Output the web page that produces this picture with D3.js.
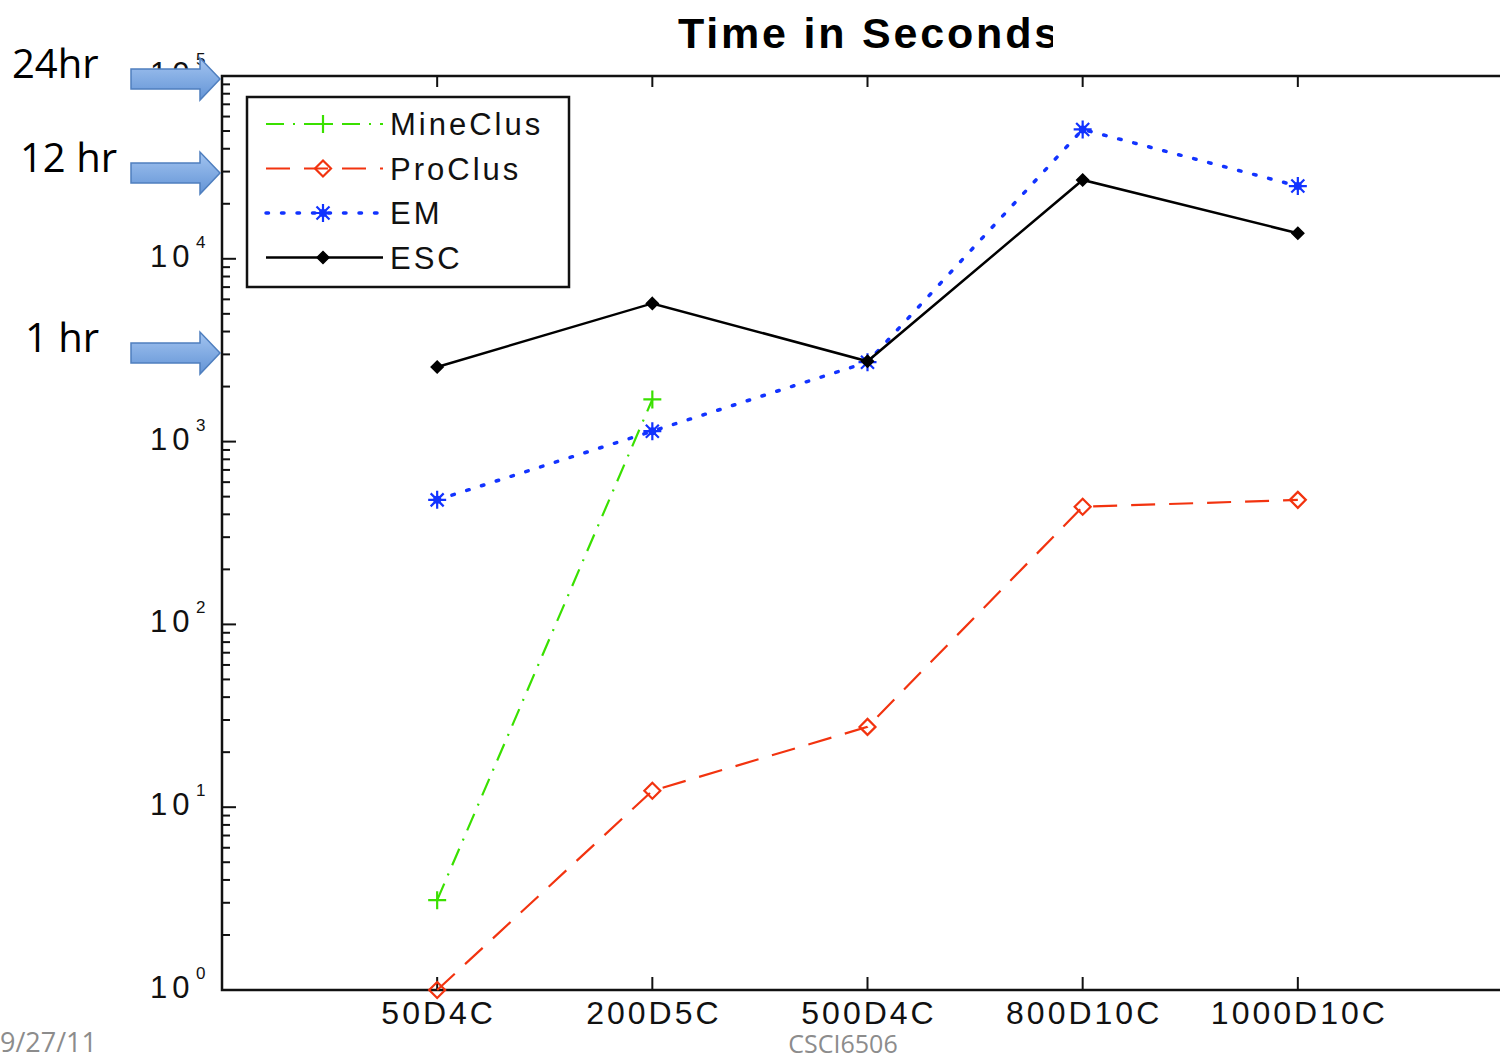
<!DOCTYPE html>
<html>
<head>
<meta charset="utf-8">
<script src="https://d3js.org/d3.v7.min.js"></script>
<style>
    body { margin: 0; background: #fff; }
    svg { display: block; }
    .tick-label { font-family: "Liberation Sans", Arial, sans-serif; fill: #111; }
</style>
</head>
<body>
<div id="chart"></div>
<script>

// ---- data ----
const categories = ["50D4C", "200D5C", "500D4C", "800D10C", "1000D10C"];
const mineClus = [3.1, 1700, null, null, null];
const proClus  = [1.0, 12.3, 27.5, 440, 480];
const em       = [480, 1140, 2720, 51000, 25000];
const esc      = [2560, 5700, 2750, 27000, 13800];
const seriesNames = ["MineClus", "ProClus", "EM", "ESC"];
const yTickExps = [0, 1, 2, 3, 4, 5];

// slide annotations: label text, arrow tip (px), text left
const notes = [
    {label: "24hr",  y: 79,  tx: 12},
    {label: "12 hr", y: 173, tx: 20},
    {label: "1 hr",  y: 353, tx: 25}
];

const W = 1500, H = 1060;
const margin = {top: 76, left: 222, bottom: 990, right: 1513};

const svg = d3.select("#chart").append("svg")
    .attr("width", W)
    .attr("height", H);

const x = d3.scaleLinear().domain([0, categories.length + 1]).range([margin.left, margin.right]);
const y = d3.scaleLog().domain([1, 1e5]).range([margin.bottom, margin.top]);

// styles per series
const styles = {
    MineClus: {color: "#3ae000", dash: "18,9,2,9", marker: "plus", width: 2.2},
    ProClus:  {color: "#f2330f", dash: "24,14", marker: "diamond", width: 2.2},
    EM:       {color: "#1233ff", dash: "2.5,13", marker: "star", width: 3.5},
    ESC:      {color: "#000000", dash: null, marker: "dot", width: 2.5}
};
const data = {MineClus: mineClus, ProClus: proClus, EM: em, ESC: esc};

function markerPath(type) {
    if (type === "plus") return "M-9,0H9M0,-9V9";
    if (type === "diamond") return "M0,-8L8,0L0,8L-8,0Z";
    if (type === "star") return "M-9,0H9M0,-9V9M-6.5,-6.5L6.5,6.5M-6.5,6.5L6.5,-6.5";
    return "M0,-6L6,0L0,6L-6,0Z";
}

function drawMarker(g, type, color) {
    g.append("path")
        .attr("d", markerPath(type))
        .attr("fill", type === "dot" ? color : "none")
        .attr("stroke", color)
        .attr("stroke-width", type === "dot" ? 1.5 : 2.2);
    if (type === "star") {
        g.append("circle").attr("r", 4).attr("fill", color);
    }
}

// ---- title (clipped at the right like the slide) ----
svg.append("clipPath").attr("id", "titleClip")
    .append("rect").attr("x", 0).attr("y", 0).attr("width", 1053).attr("height", 70);

svg.append("text")
    .attr("clip-path", "url(#titleClip)")
    .attr("x", 678)
    .attr("y", 48)
    .style("font-family", "'Liberation Sans', Arial, sans-serif")
    .style("font-weight", "bold")
    .style("font-size", "43px")
    .style("letter-spacing", "2.8px")
    .text("Time in Seconds");

// ---- axes frame ----
const frame = svg.append("g").attr("class", "frame");

frame.append("path")
    .attr("d", `M${W + 10},${margin.top}H${margin.left}V${margin.bottom}H${W + 10}`)
    .attr("fill", "none")
    .attr("stroke", "#111")
    .attr("stroke-width", 2.5);

// x ticks, inward on bottom and top
categories.forEach((c, i) => {
    const xx = x(i + 1);
    frame.append("line").attr("x1", xx).attr("x2", xx)
        .attr("y1", margin.bottom).attr("y2", margin.bottom - 13)
        .attr("stroke", "#111").attr("stroke-width", 2);
    frame.append("line").attr("x1", xx).attr("x2", xx)
        .attr("y1", margin.top).attr("y2", margin.top + 11)
        .attr("stroke", "#111").attr("stroke-width", 2);
    frame.append("text")
        .attr("class", "tick-label")
        .attr("x", xx + 1.5)
        .attr("y", margin.bottom + 34)
        .attr("text-anchor", "middle")
        .style("font-size", "32px")
        .style("letter-spacing", "3px")
        .text(c);
});

// y ticks major + minor
yTickExps.forEach(e => {
    const v = Math.pow(10, e);
    frame.append("line")
        .attr("x1", margin.left).attr("x2", margin.left + 14)
        .attr("y1", y(v)).attr("y2", y(v))
        .attr("stroke", "#111").attr("stroke-width", 2);
    if (e < 5) {
        d3.range(2, 10).forEach(m => {
            frame.append("line")
                .attr("x1", margin.left).attr("x2", margin.left + 8)
                .attr("y1", y(v * m)).attr("y2", y(v * m))
                .attr("stroke", "#111").attr("stroke-width", 2);
        });
    }
    frame.append("text")
        .attr("class", "tick-label")
        .attr("x", 150)
        .attr("y", y(v) + 8)
        .style("font-size", "31px")
        .style("letter-spacing", "5px")
        .text("10");
    frame.append("text")
        .attr("class", "tick-label")
        .attr("x", 196)
        .attr("y", y(v) - 11)
        .style("font-size", "17px")
        .text(e);
});

// ---- series ----
const line = d3.line()
    .defined(d => d.v != null)
    .x(d => x(d.i + 1))
    .y(d => y(d.v));

const plot = svg.append("g").attr("class", "series");

seriesNames.forEach(name => {
    const st = styles[name];
    const pts = data[name].map((v, i) => ({v, i}));
    plot.append("path")
        .datum(pts)
        .attr("d", line)
        .attr("fill", "none")
        .attr("stroke", st.color)
        .attr("stroke-width", st.width)
        .attr("stroke-linecap", name === "EM" ? "round" : "butt")
        .attr("stroke-dasharray", st.dash);
    pts.filter(d => d.v != null).forEach(d => {
        const g = plot.append("g").attr("transform", `translate(${x(d.i + 1)},${y(d.v)})`);
        drawMarker(g, st.marker, st.color);
    });
});

// ---- legend ----
const legend = svg.append("g").attr("class", "legend");
legend.append("rect")
    .attr("x", 247).attr("y", 97)
    .attr("width", 322).attr("height", 190)
    .attr("fill", "#fff")
    .attr("stroke", "#111")
    .attr("stroke-width", 2.5);

seriesNames.forEach((name, k) => {
    const st = styles[name];
    const ly = 124 + k * 44.5;
    legend.append("line")
        .attr("x1", 266).attr("x2", 383)
        .attr("y1", ly).attr("y2", ly)
        .attr("stroke", st.color)
        .attr("stroke-width", st.width)
        .attr("stroke-linecap", name === "EM" ? "round" : "butt")
        .attr("stroke-dasharray", st.dash);
    const g = legend.append("g").attr("transform", `translate(323,${ly})`);
    drawMarker(g, st.marker, st.color);
    legend.append("text")
        .attr("class", "tick-label")
        .attr("x", 390)
        .attr("y", ly + 11)
        .style("font-size", "31px")
        .style("letter-spacing", "3px")
        .text(name);
});

// ---- slide annotations: labels + blue arrows ----
const defs = svg.append("defs");
const grad = defs.append("linearGradient").attr("id", "arrowGrad")
    .attr("x1", 0).attr("y1", 0).attr("x2", 0).attr("y2", 1);
grad.append("stop").attr("offset", "0%").attr("stop-color", "#a3c4f0");
grad.append("stop").attr("offset", "100%").attr("stop-color", "#6394d6");

notes.forEach(n => {
    svg.append("path")
        .attr("transform", `translate(0,${n.y})`)
        .attr("d", "M131,-10H200V-21L220,0L200,21V10H131Z")
        .attr("fill", "url(#arrowGrad)")
        .attr("stroke", "#4f7fbf")
        .attr("stroke-width", 1.5);
    svg.append("text")
        .attr("x", n.tx)
        .attr("y", n.y - 1)
        .style("font-family", "'Open Sans', 'Liberation Sans', sans-serif")
        .style("font-size", "40px")
        .style("fill", "#000")
        .text(n.label);
});

// ---- footer ----
svg.append("text")
    .attr("x", 0).attr("y", 1052)
    .style("font-family", "'Open Sans', 'Liberation Sans', sans-serif")
    .style("font-size", "27px")
    .style("fill", "#8c8c8c")
    .text("9/27/11");

svg.append("text")
    .attr("x", 843).attr("y", 1053)
    .attr("text-anchor", "middle")
    .style("font-family", "'Liberation Sans Narrow', 'Open Sans', sans-serif")
    .style("font-size", "25px")
    .style("fill", "#8c8c8c")
    .text("CSCI6506");

</script>
</body>
</html>
